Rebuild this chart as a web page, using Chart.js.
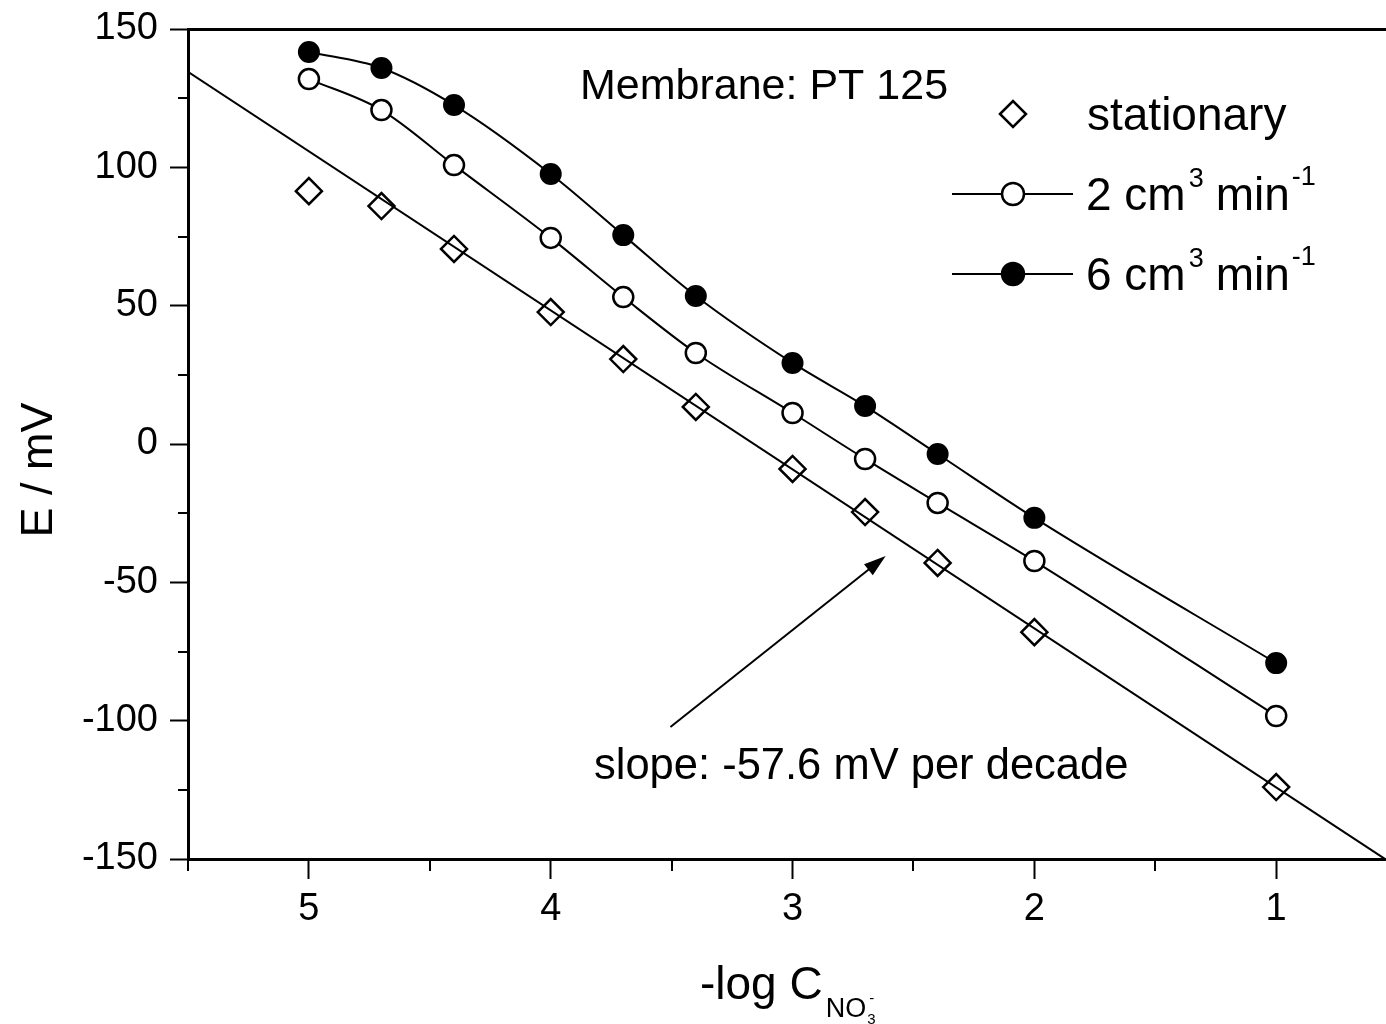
<!DOCTYPE html>
<html>
<head>
<meta charset="utf-8">
<script src="https://cdn.jsdelivr.net/npm/chart.js@4.4.1/dist/chart.umd.min.js"></script>
<style>
  html, body { margin: 0; padding: 0; background: #fff; overflow: hidden; }
  #wrap { width: 1386px; height: 1024px; }
  canvas { display: block; }
</style>
</head>
<body>
<div id="wrap"><canvas id="chart" width="1386" height="1024"></canvas></div>
<script>
// -log C(NO3-) values
const logC = [5, 4.7, 4.4, 4, 3.7, 3.4, 3, 2.7, 2.4, 2, 1];
// E / mV
const eStationary = [91.4, 86.0, 70.5, 47.7, 30.7, 13.4, -9.0, -24.6, -43.0, -68.0, -124.0];
const eFlow2 = [131.9, 120.7, 100.8, 74.5, 53.1, 32.9, 11.2, -5.4, -21.3, -42.3, -98.3];
const eFlow6 = [141.7, 135.9, 122.5, 97.6, 75.5, 53.5, 29.3, 13.7, -3.6, -26.7, -79.2];
// straight fit line of the stationary data (slope -57.6 mV per decade)
const fitX = [5.5, 0.55];
const fitY = [134.5, -150];

const xTicks = [5, 4, 3, 2, 1];
const xMinor = [5.5, 4.5, 3.5, 2.5, 1.5];
const yTicks = [-150, -100, -50, 0, 50, 100, 150];
const yMinor = [-125, -75, -25, 25, 75, 125];

const FONT = "'Liberation Sans', Arial, sans-serif";

function pts(xs, ys) {
    return xs.map((x, i) => ({ x: x, y: ys[i] }));
}

// petits traits de graduation, annotations et legende
const extras = {
    id: 'extras',
    afterDraw(chart) {
        const ctx = chart.ctx;
        const xs = chart.scales.x, ys = chart.scales.y;
        const area = chart.chartArea;
        ctx.save();
        ctx.strokeStyle = '#000';
        ctx.fillStyle = '#000';

        // minor ticks
        ctx.lineWidth = 2;
        ctx.beginPath();
        yMinor.forEach(v => {
            const py = Math.round(ys.getPixelForValue(v));
            ctx.moveTo(area.left, py);
            ctx.lineTo(area.left - 10, py);
        });
        xMinor.forEach(v => {
            const px = Math.round(xs.getPixelForValue(v));
            ctx.moveTo(px, area.bottom);
            ctx.lineTo(px, area.bottom + 12);
        });
        ctx.stroke();

        // axis titles
        ctx.textBaseline = 'alphabetic';
        ctx.save();
        ctx.translate(52, 470);
        ctx.rotate(-Math.PI / 2);
        ctx.font = '45px ' + FONT;
        ctx.textAlign = 'center';
        ctx.fillText('E / mV', 0, 0);
        ctx.restore();

        ctx.textAlign = 'left';
        ctx.font = '46px ' + FONT;
        ctx.fillText('-log C', 700, 999);
        let w = ctx.measureText('-log C').width;
        ctx.font = '27px ' + FONT;
        ctx.fillText('NO', 700 + w + 3, 1017);
        let w2 = ctx.measureText('NO').width;
        ctx.font = '15px ' + FONT;
        ctx.fillText('3', 700 + w + 4 + w2, 1024);
        ctx.fillText('-', 700 + w + 6 + w2, 1003);

        // annotations
        ctx.font = '43px ' + FONT;
        ctx.fillText('Membrane: PT 125', 580, 99);
        ctx.font = '43.5px ' + FONT;
        ctx.fillText('slope: -57.6 mV per decade', 594, 779);

        // arrow (tail at x=3.505, y=-102.3 ; tip at x=2.615, y=-40.5)
        const ax0 = xs.getPixelForValue(3.505), ay0 = ys.getPixelForValue(-102.3);
        const ax1 = xs.getPixelForValue(2.615), ay1 = ys.getPixelForValue(-40.5);
        const ang = Math.atan2(ay1 - ay0, ax1 - ax0);
        ctx.lineWidth = 2;
        ctx.beginPath();
        ctx.moveTo(ax0, ay0);
        ctx.lineTo(ax1 - 14 * Math.cos(ang), ay1 - 14 * Math.sin(ang));
        ctx.stroke();
        ctx.beginPath();
        ctx.moveTo(ax1, ay1);
        ctx.lineTo(ax1 - 22 * Math.cos(ang) + 7 * Math.sin(ang), ay1 - 22 * Math.sin(ang) - 7 * Math.cos(ang));
        ctx.lineTo(ax1 - 22 * Math.cos(ang) - 7 * Math.sin(ang), ay1 - 22 * Math.sin(ang) + 7 * Math.cos(ang));
        ctx.closePath();
        ctx.fill();

        // legend
        const mx = 1013;
        ctx.lineWidth = 2.5;
        // stationary
        ctx.beginPath();
        ctx.moveTo(mx - 13, 114); ctx.lineTo(mx, 101); ctx.lineTo(mx + 13, 114); ctx.lineTo(mx, 127);
        ctx.closePath();
        ctx.fillStyle = '#fff'; ctx.fill(); ctx.stroke();
        ctx.fillStyle = '#000';
        ctx.font = '46px ' + FONT;
        ctx.fillText('stationary', 1087, 130);

        const rows = [
            { y: 194, base: 210, num: '2', fill: '#fff' },
            { y: 274, base: 290, num: '6', fill: '#000' }
        ];
        rows.forEach(r => {
            ctx.lineWidth = 2;
            ctx.beginPath();
            ctx.moveTo(952, r.y); ctx.lineTo(1073, r.y);
            ctx.stroke();
            ctx.lineWidth = 2.5;
            ctx.beginPath();
            ctx.arc(mx, r.y, 11, 0, Math.PI * 2);
            ctx.fillStyle = r.fill; ctx.fill(); ctx.stroke();
            ctx.fillStyle = '#000';
            ctx.font = '46px ' + FONT;
            const t1 = r.num + ' cm';
            ctx.fillText(t1, 1086, r.base);
            let x = 1086 + ctx.measureText(t1).width + 3;
            ctx.font = '27px ' + FONT;
            ctx.fillText('3', x, r.base - 23);
            x += ctx.measureText('3').width + 12;
            ctx.font = '46px ' + FONT;
            ctx.fillText('min', x, r.base);
            x += ctx.measureText('min').width + 2;
            ctx.font = '27px ' + FONT;
            ctx.fillText('-1', x, r.base - 25);
        });
        ctx.restore();
    }
};

const ctx = document.getElementById('chart');

new Chart(ctx, {
    type: 'line',
    data: {
        datasets: [
            {
                label: 'fit',
                data: pts(fitX, fitY),
                borderColor: '#000',
                borderWidth: 2,
                pointRadius: 0,
                tension: 0
            },
            {
                label: 'stationary',
                data: pts(logC, eStationary),
                showLine: false,
                pointStyle: 'rectRot',
                pointRadius: 13,
                pointBorderWidth: 2.5,
                pointBorderColor: '#000',
                pointBackgroundColor: '#fff'
            },
            {
                label: '2 cm3 min-1',
                data: pts(logC, eFlow2),
                borderColor: '#000',
                borderWidth: 2,
                cubicInterpolationMode: 'monotone',
                pointStyle: 'circle',
                pointRadius: 10,
                pointBorderWidth: 2.5,
                pointBorderColor: '#000',
                pointBackgroundColor: '#fff'
            },
            {
                label: '6 cm3 min-1',
                data: pts(logC, eFlow6),
                borderColor: '#000',
                borderWidth: 2,
                cubicInterpolationMode: 'monotone',
                pointStyle: 'circle',
                pointRadius: 10,
                pointBorderWidth: 2,
                pointBorderColor: '#000',
                pointBackgroundColor: '#000'
            }
        ]
    },
    options: {
        responsive: false,
        animation: false,
        events: [],
        layout: { autoPadding: false, padding: { top: 29, right: 1, left: 0, bottom: 0 } },
        plugins: { legend: { display: false }, tooltip: { enabled: false } },
        scales: {
            x: {
                type: 'linear',
                reverse: true,
                min: 0.55,
                max: 5.5,
                afterFit: s => { s.height = 165; s.paddingLeft = 0; s.paddingRight = 0; },
                afterBuildTicks: s => { s.ticks = xTicks.map(v => ({ value: v })); },
                border: { display: true, color: '#000', width: 3 },
                grid: { drawOnChartArea: false, drawTicks: true, tickLength: 20, tickWidth: 2, tickColor: '#000' },
                ticks: { color: '#000', font: { family: FONT, size: 38 }, padding: 8 }
            },
            xTop: {
                type: 'linear',
                position: 'top',
                reverse: true,
                min: 0.55,
                max: 5.5,
                afterFit: s => { s.height = 0; s.paddingLeft = 0; s.paddingRight = 0; },
                border: { display: true, color: '#000', width: 3 },
                grid: { display: false, drawTicks: false },
                ticks: { display: false }
            },
            y: {
                type: 'linear',
                min: -150,
                max: 150,
                afterFit: s => { s.width = 188; s.paddingTop = 0; s.paddingBottom = 0; },
                afterBuildTicks: s => { s.ticks = yTicks.map(v => ({ value: v })); },
                border: { display: true, color: '#000', width: 3 },
                grid: { drawOnChartArea: false, drawTicks: true, tickLength: 18, tickWidth: 2, tickColor: '#000' },
                ticks: { color: '#000', font: { family: FONT, size: 38 }, padding: 12 }
            }
        }
    },
    plugins: [extras]
});
</script>
</body>
</html>
